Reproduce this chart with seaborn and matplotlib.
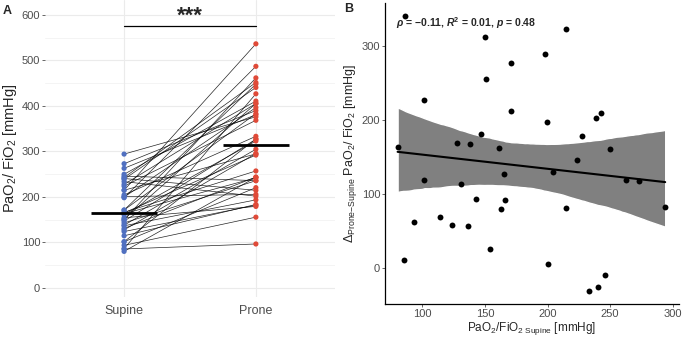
import numpy as np
import pandas as pd
import seaborn as sns
import matplotlib
matplotlib.use('Agg')
import matplotlib.pyplot as plt

# PaO2/FiO2 [mmHg] per patient
supine = [80.1, 86.2, 85.4, 93.4, 101.3, 101.3, 114.4, 123.7, 127.4, 130.6,
          136.4, 137.8, 142.6, 146.8, 149.7, 150.8, 154.0, 160.9, 163.0, 164.9,
          166.0, 171.0, 171.0, 198.1, 199.5, 200.5, 204.2, 214.6, 214.6, 223.4,
          227.4, 233.5, 238.6, 240.4, 242.6, 245.7, 249.7, 262.8, 272.9, 294.1]
prone = [243.1, 426.7, 96.4, 155.4, 327.3, 220.3, 183.4, 181.7, 295.4, 243.6,
         193.4, 304.8, 235.6, 326.8, 461.7, 405.3, 179.0, 322.9, 242.0, 291.9,
         257.0, 448.0, 383.0, 487.1, 396.5, 205.5, 333.2, 536.6, 294.6, 368.4,
         405.4, 201.5, 440.6, 214.4, 451.6, 235.7, 410.7, 380.8, 389.9, 376.1]
positions = ['Supine', 'Prone']
stat_text = r'$\mathbfit{\rho}$ = −0.11, $\mathbfit{R}^{\mathbf{2}}$ = 0.01, $\mathbfit{p}$ = 0.48'

sup = np.array(supine)
pro = np.array(prone)
delta = pro - sup

sns.set_theme(style='white')
plt.rcParams['font.family'] = ['Liberation Sans', 'DejaVu Sans']
plt.rcParams['mathtext.fontset'] = 'custom'
plt.rcParams['mathtext.rm'] = 'Liberation Sans'
plt.rcParams['mathtext.it'] = 'Liberation Sans:italic'
plt.rcParams['mathtext.bf'] = 'Liberation Sans:bold'
plt.rcParams['mathtext.bfit'] = 'Liberation Sans:italic:bold'

long = pd.DataFrame({
    'id': np.tile(np.arange(len(sup)), 2),
    'pos': np.repeat([0, 1], len(sup)),
    'position': np.repeat(positions, len(sup)),
    'value': np.concatenate([sup, pro]),
})

fig = plt.figure(figsize=(6.85, 3.37), dpi=100)
axA = fig.add_axes([0.0657, 0.119, 0.4233, 0.881])
axB = fig.add_axes([0.562, 0.098, 0.429, 0.894])

# ---- panel A
for v in range(0, 601, 100):
    axA.axhline(v, color='#EBEBEB', lw=0.8, zorder=0)
for v in range(50, 601, 100):
    axA.axhline(v, color='#F2F2F2', lw=0.6, zorder=0)
for v in [0, 1]:
    axA.axvline(v, color='#EBEBEB', lw=0.8, zorder=0)

sns.lineplot(data=long, x='pos', y='value', units='id', estimator=None,
             color='black', lw=0.5, alpha=0.85, ax=axA, zorder=2)
sns.scatterplot(data=long, x='pos', y='value', hue='position',
                palette={'Supine': '#5070C0', 'Prone': '#DF4A38'},
                s=14, linewidth=0, legend=False, ax=axA, zorder=3)
for i, vals in enumerate([sup, pro]):
    axA.hlines(np.median(vals), i - 0.25, i + 0.25, color='black', lw=2, zorder=4)

axA.plot([0, 1], [575, 575], color='black', lw=0.9)
axA.text(0.5, 597, '***', ha='center', va='center', fontsize=16, fontweight='bold')

axA.set_xlim(-0.6, 1.6)
axA.set_ylim(-20, 633)
axA.set_xticks([0, 1])
axA.set_xticklabels(positions)
axA.set_yticks(range(0, 601, 100))
axA.tick_params(axis='y', labelsize=8, colors='#4D4D4D', length=2.5, width=0.6, pad=1,
                left=True)
axA.tick_params(axis='x', labelsize=9, colors='#4D4D4D', length=0, pad=6)
axA.set_xlabel('')
axA.set_ylabel(r'PaO$_2$/ FiO$_2$ [mmHg]', fontsize=10.5, labelpad=2)
for s in axA.spines.values():
    s.set_visible(False)
fig.text(0.004, 0.985, 'A', fontsize=9, fontweight='bold', va='top')

# ---- panel B
sns.regplot(x=sup, y=delta, scatter=False, ci=95, n_boot=2000, seed=3,
            color='black', line_kws={'lw': 1.5, 'zorder': 3}, ax=axB)
for c in axB.collections:
    c.set_facecolor('#808080')
    c.set_alpha(1)
    c.set_zorder(2)
sns.scatterplot(x=sup, y=delta, color='black', s=18, linewidth=0, ax=axB, zorder=4)

axB.text(79, 330, stat_text, fontsize=7.5, fontweight='bold', va='center', ha='left')
axB.set_xlim(70, 305)
axB.set_ylim(-49, 358)
axB.set_xticks([100, 150, 200, 250, 300])
axB.set_yticks([0, 100, 200, 300])
axB.tick_params(labelsize=8, colors='#4D4D4D', length=2.5, width=0.6, pad=1,
                left=True, bottom=True)
for s in ['top', 'right']:
    axB.spines[s].set_visible(False)
for s in ['left', 'bottom']:
    axB.spines[s].set_color('black')
    axB.spines[s].set_linewidth(0.9)
axB.set_xlabel(r'PaO$_2$/FiO$_{2\ \mathrm{Supine}}$ [mmHg]', fontsize=8.5, labelpad=1)
axB.set_ylabel(r'$\Delta_{\mathrm{Prone{-}Supine}}$ PaO$_2$/ FiO$_2$ [mmHg]', fontsize=9, labelpad=2)
fig.text(0.502, 0.99, 'B', fontsize=9, fontweight='bold', va='top')

fig.savefig('out.png', dpi=100)
